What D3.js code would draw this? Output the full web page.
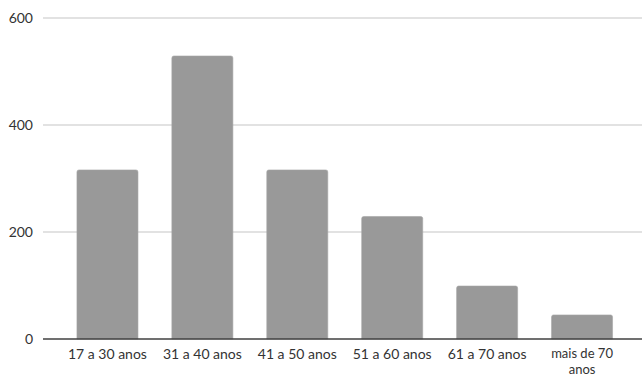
<!DOCTYPE html>
<html>
<head>
<meta charset="utf-8">
<script src="https://cdn.jsdelivr.net/npm/d3@7"></script>
<style>
html,body{margin:0;padding:0;background:#fff;}
svg{display:block;}
text{font-family:Lato,"Open Sans",sans-serif;fill:#333;}
</style>
</head>
<body>
<svg id="chart" width="642" height="376"></svg>
<script>
const categories = [["17 a 30 anos"], ["31 a 40 anos"], ["41 a 50 anos"], ["51 a 60 anos"], ["61 a 70 anos"], ["mais de 70", "anos"]];
const values = [316, 529, 316, 229, 99, 45];
const yTicks = [0, 200, 400, 600];

const svg = d3.select("#chart");
const plotLeft = 43, plotRight = 642, y0 = 339, yTop = 18;

const x = d3.scaleBand()
  .domain(d3.range(categories.length))
  .range([60, 629.5])
  .paddingInner(0.357)
  .paddingOuter(0.1785);

const y = d3.scaleLinear().domain([0, 600]).range([y0, yTop]);

// gridlines
svg.append("g").selectAll("line")
  .data(yTicks.filter(d => d > 0))
  .join("line")
  .attr("x1", plotLeft).attr("x2", plotRight)
  .attr("y1", d => y(d)).attr("y2", d => y(d))
  .attr("stroke", "#d9d9d9").attr("stroke-width", 1.5);

// y tick labels
svg.append("g").selectAll("text")
  .data(yTicks)
  .join("text")
  .attr("x", 33).attr("y", d => y(d))
  .attr("dy", "0.36em")
  .attr("text-anchor", "end")
  .attr("font-size", 14)
  .text(d => d);

// bars with rounded top corners
const r = 2;
svg.append("g").selectAll("path")
  .data(values)
  .join("path")
  .attr("d", (d, i) => {
    const x0 = x(i), w = x.bandwidth(), yt = y(d);
    return `M${x0},${y0}V${yt + r}Q${x0},${yt} ${x0 + r},${yt}H${x0 + w - r}Q${x0 + w},${yt} ${x0 + w},${yt + r}V${y0}Z`;
  })
  .attr("fill", "#999999")
  .attr("stroke", "#a6a6a6")
  .attr("stroke-width", 0.6);

// x axis line
svg.append("line")
  .attr("x1", plotLeft).attr("x2", plotRight)
  .attr("y1", y0).attr("y2", y0)
  .attr("stroke", "#404040").attr("stroke-width", 1.5);

// category labels (one text element per line; wrapped labels slightly smaller to fit)
const lines = [];
categories.forEach((c, i) => c.forEach((t, j) => lines.push({ i, j, t, n: c.length })));
svg.append("g").selectAll("text")
  .data(lines)
  .join("text")
  .attr("text-anchor", "middle")
  .attr("font-size", d => d.n > 1 ? 13 : 14)
  .attr("x", d => x(d.i) + x.bandwidth() / 2)
  .attr("y", d => d.n > 1 ? 358.3 + d.j * 15.8 : 359)
  .text(d => d.t);
</script>
</body>
</html>
